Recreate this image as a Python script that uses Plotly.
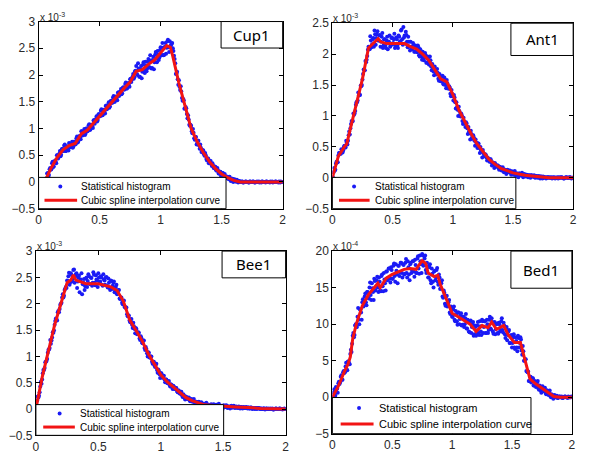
import numpy as np
import plotly.graph_objects as go

W, H = 591, 463

# Histogram samples: "_a" lists sit on bins 0.00, 0.01, ...; "_b" lists on 0.005, 0.015, ...

# ---- Cup1 (x 10^-3) ----
cup1_hist_a = [
    0.00, 0.00, 0.01, 0.00, 0.02, 0.02, 0.03, 0.16, 0.10, 0.24,
    0.23, 0.35, 0.28, 0.38, 0.38, 0.50, 0.44, 0.53, 0.48, 0.61,
    0.58, 0.68, 0.58, 0.66, 0.63, 0.73, 0.65, 0.71, 0.64, 0.75,
    0.70, 0.82, 0.74, 0.84, 0.83, 0.95, 0.87, 0.95, 0.88, 1.00,
    0.95, 1.06, 0.97, 1.06, 1.04, 1.15, 1.09, 1.18, 1.13, 1.26,
    1.23, 1.33, 1.25, 1.33, 1.32, 1.42, 1.36, 1.44, 1.39, 1.51,
    1.48, 1.58, 1.50, 1.58, 1.57, 1.67, 1.61, 1.69, 1.64, 1.76,
    1.73, 1.83, 1.75, 1.83, 1.82, 1.92, 1.87, 1.97, 1.93, 2.07,
    2.17, 2.00, 2.12, 1.97, 2.17, 2.06, 2.24, 2.04, 2.18, 2.12,
    2.30, 2.14, 2.27, 2.13, 2.34, 2.24, 2.43, 2.24, 2.38, 2.33,
    2.52, 2.37, 2.51, 2.38, 2.60, 2.51, 2.66, 2.43, 2.54, 2.58,
    2.50, 2.36, 2.22, 2.03, 1.92, 1.90, 1.72, 1.69, 1.52, 1.53,
    1.38, 1.38, 1.19, 1.17, 1.05, 1.05, 0.91, 0.92, 0.79, 0.84,
    0.73, 0.77, 0.62, 0.64, 0.56, 0.59, 0.49, 0.50, 0.40, 0.44,
    0.36, 0.39, 0.30, 0.31, 0.26, 0.28, 0.21, 0.22, 0.16, 0.19,
    0.14, 0.17, 0.10, 0.11, 0.08, 0.10, 0.05, 0.07, 0.03, 0.06,
    0.02, 0.04, 0.01, 0.02, 0.00, 0.01, 0.00, 0.01, -0.01, 0.00,
    0.01, 0.00, -0.01, 0.01, 0.00, 0.00, 0.01, -0.01, 0.00, 0.01,
    0.00, -0.01, 0.00, 0.01, 0.00, 0.00, -0.01, 0.01, 0.00, 0.00,
    0.01, 0.00, -0.01, 0.00, 0.01, 0.00, 0.00, 0.01, -0.01, 0.00,
    0.00,
]
cup1_hist_b = [
    0.00, 0.01, 0.00, 0.01, 0.00, 0.05, 0.07, 0.17, 0.13, 0.26,
    0.24, 0.38, 0.29, 0.40, 0.35, 0.50, 0.49, 0.58, 0.51, 0.62,
    0.58, 0.70, 0.58, 0.67, 0.59, 0.72, 0.68, 0.75, 0.66, 0.75,
    0.71, 0.85, 0.75, 0.86, 0.80, 0.95, 0.91, 0.99, 0.90, 1.00,
    0.96, 1.08, 0.98, 1.07, 1.01, 1.16, 1.14, 1.23, 1.16, 1.27,
    1.23, 1.36, 1.25, 1.35, 1.28, 1.43, 1.40, 1.49, 1.41, 1.52,
    1.48, 1.61, 1.50, 1.60, 1.53, 1.68, 1.65, 1.74, 1.66, 1.77,
    1.73, 1.86, 1.75, 1.85, 1.78, 1.93, 1.92, 2.02, 1.96, 2.08,
    2.02, 2.22, 1.97, 2.11, 1.94, 2.19, 2.11, 2.25, 2.07, 2.25,
    2.15, 2.37, 2.12, 2.28, 2.11, 2.38, 2.31, 2.45, 2.28, 2.47,
    2.38, 2.60, 2.37, 2.53, 2.40, 2.63, 2.52, 2.63, 2.56, 2.60,
    2.45, 2.30, 2.02, 2.06, 1.82, 1.78, 1.79, 1.57, 1.55, 1.37,
    1.40, 1.27, 1.25, 1.07, 1.07, 0.95, 0.99, 0.82, 0.84, 0.70,
    0.77, 0.68, 0.70, 0.56, 0.60, 0.52, 0.54, 0.43, 0.44, 0.35,
    0.39, 0.33, 0.35, 0.26, 0.29, 0.22, 0.26, 0.16, 0.19, 0.11,
    0.17, 0.12, 0.15, 0.07, 0.10, 0.06, 0.10, 0.02, 0.06, 0.00,
    0.05, 0.01, 0.04, -0.01, 0.02, 0.00, 0.01, -0.01, 0.00, 0.01,
    0.00, 0.00, -0.01, 0.01, 0.00, 0.01, 0.00, -0.01, 0.00, 0.00,
    0.01, 0.00, -0.01, 0.01, 0.00, 0.00, 0.01, 0.00, 0.00, -0.01,
    0.00, 0.01, 0.00, 0.00, 0.01, 0.00, -0.01, 0.00, 0.01, 0.00,
]
cup1_curve_x = [0.0, 0.05, 0.1, 0.15, 0.2, 0.25, 0.3, 0.35, 0.4, 0.45, 0.5, 0.55,
                0.6, 0.65, 0.7, 0.75, 0.8, 0.85, 0.9, 0.95, 1.0, 1.05, 1.08, 1.1,
                1.15, 1.2, 1.25, 1.3, 1.35, 1.4, 1.45, 1.5, 1.55, 1.6, 1.65, 2.0]
cup1_curve_y = [0.0, 0.0, 0.25, 0.45, 0.6, 0.68, 0.72, 0.9, 0.97, 1.1, 1.25, 1.37,
                1.5, 1.62, 1.75, 1.87, 2.07, 2.1, 2.2, 2.28, 2.42, 2.55, 2.52, 2.35,
                1.85, 1.4, 1.0, 0.75, 0.55, 0.38, 0.25, 0.15, 0.08, 0.03, 0.0, 0.0]

# ---- Ant1 (x 10^-3) ----
ant1_hist_a = [
    0.00, 0.09, 0.12, 0.23, 0.25, 0.36, 0.40, 0.39, 0.45, 0.44,
    0.52, 0.49, 0.57, 0.60, 0.75, 0.80, 0.92, 0.92, 1.02, 1.08,
    1.22, 1.25, 1.33, 1.34, 1.48, 1.59, 1.75, 1.74, 1.87, 1.97,
    2.12, 2.08, 2.22, 2.16, 2.26, 2.38, 2.15, 2.32, 2.22, 2.30,
    2.12, 2.28, 2.10, 2.24, 2.14, 2.22, 2.08, 2.20, 2.12, 2.26,
    2.16, 2.24, 2.10, 2.27, 2.14, 2.30, 2.20, 2.38, 2.24, 2.44,
    2.30, 2.36, 2.20, 2.28, 2.12, 2.20, 2.08, 2.18, 2.04, 2.14,
    2.04, 2.14, 1.98, 2.08, 1.96, 2.04, 1.90, 2.02, 1.86, 1.96,
    1.84, 1.96, 1.80, 1.84, 1.72, 1.80, 1.68, 1.76, 1.60, 1.68,
    1.56, 1.64, 1.52, 1.62, 1.50, 1.58, 1.46, 1.48, 1.36, 1.42,
    1.32, 1.34, 1.22, 1.22, 1.10, 1.15, 1.02, 1.04, 0.92, 0.97,
    0.88, 0.90, 0.80, 0.82, 0.72, 0.76, 0.65, 0.69, 0.60, 0.62,
    0.54, 0.56, 0.48, 0.50, 0.42, 0.45, 0.37, 0.38, 0.33, 0.33,
    0.29, 0.30, 0.25, 0.25, 0.21, 0.24, 0.19, 0.20, 0.16, 0.18,
    0.14, 0.16, 0.12, 0.13, 0.11, 0.12, 0.10, 0.11, 0.08, 0.10,
    0.07, 0.09, 0.07, 0.07, 0.06, 0.07, 0.05, 0.06, 0.04, 0.05,
    0.03, 0.05, 0.03, 0.04, 0.02, 0.04, 0.02, 0.03, 0.01, 0.03,
    0.02, 0.02, 0.01, 0.02, 0.00, 0.02, 0.01, 0.01, 0.00, 0.01,
    0.01, 0.00, 0.00, 0.01, 0.00, -0.01, 0.00, 0.01, 0.00, 0.00,
    0.01, 0.00, -0.01, 0.00, 0.01, 0.00, 0.00, 0.01, 0.00, 0.00,
    0.00,
]
ant1_hist_b = [
    0.01, 0.16, 0.13, 0.26, 0.25, 0.40, 0.39, 0.46, 0.41, 0.50,
    0.49, 0.60, 0.54, 0.69, 0.70, 0.87, 0.91, 1.04, 1.04, 1.18,
    1.22, 1.38, 1.35, 1.49, 1.50, 1.68, 1.74, 1.89, 1.91, 2.07,
    2.11, 2.29, 2.11, 2.24, 2.12, 2.32, 2.26, 2.37, 2.22, 2.31,
    2.20, 2.34, 2.14, 2.24, 2.10, 2.28, 2.20, 2.30, 2.14, 2.27,
    2.18, 2.33, 2.13, 2.24, 2.10, 2.28, 2.21, 2.40, 2.15, 2.27,
    2.17, 2.31, 2.11, 2.20, 2.06, 2.12, 2.10, 2.15, 2.04, 2.10,
    2.03, 2.11, 1.96, 2.02, 1.91, 2.01, 1.94, 1.98, 1.86, 1.92,
    1.83, 1.90, 1.74, 1.78, 1.66, 1.75, 1.67, 1.70, 1.57, 1.63,
    1.56, 1.65, 1.51, 1.57, 1.45, 1.53, 1.44, 1.46, 1.32, 1.36,
    1.25, 1.30, 1.12, 1.14, 1.00, 1.08, 0.99, 1.01, 0.87, 0.91,
    0.82, 0.88, 0.71, 0.75, 0.62, 0.71, 0.63, 0.65, 0.52, 0.57,
    0.48, 0.55, 0.40, 0.44, 0.33, 0.40, 0.35, 0.37, 0.28, 0.31,
    0.26, 0.30, 0.20, 0.24, 0.16, 0.22, 0.18, 0.20, 0.13, 0.17,
    0.12, 0.17, 0.09, 0.13, 0.06, 0.13, 0.09, 0.12, 0.05, 0.10,
    0.05, 0.11, 0.03, 0.07, 0.01, 0.07, 0.04, 0.08, 0.01, 0.06,
    0.02, 0.05, 0.01, 0.04, 0.00, 0.04, 0.02, 0.04, 0.00, 0.03,
    0.00, 0.03, -0.01, 0.02, -0.01, 0.01, 0.00, -0.01, 0.01, 0.00,
    0.00, 0.01, -0.01, 0.00, 0.01, 0.00, 0.00, -0.01, 0.01, 0.00,
    0.01, 0.00, -0.01, 0.00, 0.01, 0.00, 0.00, 0.01, -0.01, 0.00,
]
ant1_curve_x = [0.0, 0.05, 0.1, 0.12, 0.15, 0.2, 0.25, 0.3, 0.35, 0.38, 0.4, 0.45,
                0.5, 0.6, 0.65, 0.7, 0.75, 0.8, 0.85, 0.9, 0.95, 1.0, 1.05, 1.1,
                1.15, 1.2, 1.25, 1.3, 1.35, 1.4, 1.5, 1.6, 1.7, 1.8, 2.0]
ant1_curve_y = [0.0, 0.35, 0.5, 0.55, 0.8, 1.2, 1.6, 2.1, 2.2, 2.25, 2.2, 2.17,
                2.17, 2.17, 2.12, 2.08, 2.0, 1.9, 1.75, 1.6, 1.55, 1.35, 1.1, 0.9,
                0.72, 0.55, 0.42, 0.3, 0.22, 0.15, 0.08, 0.04, 0.02, 0.0, 0.0]

# ---- Bee1 (x 10^-3) ----
bee1_hist_a = [
    0.00, 0.16, 0.22, 0.32, 0.52, 0.56, 0.74, 0.78, 0.90, 0.95,
    1.12, 1.16, 1.24, 1.36, 1.45, 1.60, 1.72, 1.68, 1.86, 1.90,
    2.00, 2.12, 2.12, 2.26, 2.32, 2.44, 2.52, 2.36, 2.58, 2.42,
    2.64, 2.40, 2.56, 2.30, 2.50, 2.22, 2.46, 2.18, 2.40, 2.26,
    2.48, 2.32, 2.56, 2.38, 2.50, 2.34, 2.60, 2.40, 2.54, 2.44,
    2.58, 2.40, 2.52, 2.36, 2.56, 2.44, 2.50, 2.34, 2.48, 2.30,
    2.44, 2.28, 2.40, 2.22, 2.32, 2.18, 2.26, 2.10, 2.12, 2.02,
    2.05, 1.94, 1.92, 1.80, 1.78, 1.68, 1.70, 1.60, 1.64, 1.52,
    1.54, 1.42, 1.46, 1.34, 1.38, 1.26, 1.30, 1.16, 1.18, 1.06,
    1.08, 0.98, 1.00, 0.90, 0.90, 0.82, 0.84, 0.74, 0.75, 0.66,
    0.68, 0.60, 0.63, 0.56, 0.56, 0.50, 0.52, 0.46, 0.47, 0.42,
    0.44, 0.38, 0.40, 0.34, 0.35, 0.30, 0.32, 0.26, 0.28, 0.22,
    0.24, 0.20, 0.21, 0.17, 0.18, 0.15, 0.16, 0.13, 0.14, 0.11,
    0.13, 0.10, 0.11, 0.08, 0.10, 0.07, 0.09, 0.07, 0.08, 0.06,
    0.08, 0.06, 0.08, 0.05, 0.07, 0.05, 0.07, 0.04, 0.06, 0.05,
    0.06, 0.04, 0.06, 0.04, 0.05, 0.04, 0.05, 0.03, 0.05, 0.03,
    0.04, 0.03, 0.04, 0.02, 0.04, 0.03, 0.03, 0.02, 0.03, 0.02,
    0.03, 0.01, 0.03, 0.01, 0.02, 0.01, 0.02, 0.00, 0.02, 0.01,
    0.01, 0.00, 0.01, 0.01, 0.00, 0.01, 0.00, 0.00, 0.01, 0.00,
    -0.01, 0.00, 0.01, 0.00, 0.00, 0.01, 0.00, 0.00, 0.00, 0.01,
    0.00,
]
bee1_hist_b = [
    0.04, 0.24, 0.25, 0.43, 0.48, 0.68, 0.74, 0.89, 0.91, 1.07,
    1.13, 1.31, 1.30, 1.46, 1.49, 1.67, 1.71, 1.84, 1.84, 1.98,
    2.02, 2.18, 2.15, 2.29, 2.30, 2.43, 2.59, 2.41, 2.55, 2.47,
    2.65, 2.52, 2.58, 2.42, 2.53, 2.44, 2.58, 2.37, 2.47, 2.33,
    2.50, 2.43, 2.52, 2.37, 2.49, 2.40, 2.55, 2.35, 2.46, 2.32,
    2.50, 2.42, 2.50, 2.34, 2.46, 2.36, 2.51, 2.31, 2.40, 2.26,
    2.43, 2.34, 2.42, 2.26, 2.36, 2.20, 2.26, 2.09, 2.12, 1.99,
    2.06, 1.94, 1.93, 1.76, 1.77, 1.65, 1.71, 1.54, 1.57, 1.44,
    1.52, 1.43, 1.45, 1.31, 1.35, 1.25, 1.30, 1.12, 1.14, 1.00,
    1.07, 0.98, 1.00, 0.86, 0.90, 0.80, 0.86, 0.69, 0.72, 0.59,
    0.68, 0.60, 0.63, 0.51, 0.56, 0.49, 0.53, 0.43, 0.46, 0.38,
    0.43, 0.38, 0.40, 0.32, 0.35, 0.29, 0.33, 0.23, 0.26, 0.18,
    0.23, 0.19, 0.22, 0.15, 0.19, 0.14, 0.19, 0.10, 0.14, 0.07,
    0.14, 0.10, 0.13, 0.06, 0.10, 0.06, 0.12, 0.04, 0.08, 0.02,
    0.09, 0.06, 0.09, 0.03, 0.08, 0.04, 0.10, 0.02, 0.06, 0.00,
    0.07, 0.04, 0.07, 0.02, 0.05, 0.01, 0.06, 0.03, 0.06, 0.02,
    0.05, 0.02, 0.05, 0.01, 0.04, 0.01, 0.04, 0.02, 0.04, 0.01,
    0.03, 0.01, 0.03, 0.00, 0.02, 0.00, 0.02, 0.01, 0.02, 0.00,
    0.01, 0.00, 0.01, -0.01, 0.01, 0.00, 0.01, 0.00, 0.00, 0.01,
    -0.01, 0.00, 0.01, 0.00, 0.00, 0.01, 0.00, -0.01, 0.00, 0.00,
]
bee1_curve_x = [0.0, 0.05, 0.1, 0.15, 0.2, 0.25, 0.28, 0.3, 0.32, 0.4, 0.5, 0.6,
                0.65, 0.7, 0.75, 0.8, 0.85, 0.9, 0.95, 1.0, 1.05, 1.1, 1.15, 1.2,
                1.25, 1.3, 1.35, 1.4, 1.5, 1.6, 1.7, 1.8, 2.0]
bee1_curve_y = [0.0, 0.6, 1.1, 1.6, 2.0, 2.4, 2.45, 2.55, 2.45, 2.38, 2.38, 2.32,
                2.25, 2.05, 1.7, 1.5, 1.3, 1.05, 0.85, 0.65, 0.52, 0.42, 0.32, 0.22,
                0.16, 0.12, 0.08, 0.07, 0.05, 0.04, 0.03, 0.01, 0.0]

# ---- Bed1 (x 10^-4) ----
bed1_hist_a = [
    0.0, 0.6, 0.5, 1.4, 1.2, 1.9, 1.8, 2.8, 2.4, 3.4,
    3.3, 4.2, 3.8, 4.9, 4.6, 5.9, 6.2, 8.4, 8.2, 9.8,
    9.6, 11.0, 10.6, 12.0, 11.6, 13.0, 12.4, 13.8, 13.0, 14.4,
    13.6, 15.0, 14.0, 15.6, 14.4, 16.2, 14.6, 16.0, 15.0, 16.4,
    14.6, 16.6, 15.2, 17.0, 15.6, 17.2, 16.0, 17.6, 16.2, 17.8,
    16.2, 18.0, 16.6, 18.2, 16.8, 18.0, 16.6, 18.4, 17.0, 18.2,
    16.8, 18.4, 17.0, 18.6, 16.8, 18.2, 17.0, 18.6, 17.2, 18.8,
    17.0, 19.0, 17.6, 19.4, 18.2, 19.6, 18.0, 19.0, 17.4, 18.4,
    16.4, 17.8, 16.0, 17.6, 15.8, 17.2, 16.0, 17.4, 15.8, 16.8,
    14.8, 15.6, 13.8, 14.6, 12.8, 13.8, 12.4, 13.0, 11.6, 12.4,
    11.0, 12.0, 10.6, 11.8, 10.4, 11.6, 10.0, 11.2, 9.8, 11.0,
    9.6, 10.8, 9.4, 10.6, 9.0, 10.4, 8.8, 10.0, 8.4, 9.8,
    8.4, 9.8, 8.8, 10.4, 9.0, 10.6, 8.8, 10.4, 8.8, 10.6,
    8.8, 10.6, 9.4, 10.8, 9.0, 10.2, 8.6, 10.0, 8.8, 10.2,
    9.0, 10.4, 9.2, 10.2, 8.6, 9.4, 7.8, 9.0, 7.4, 8.4,
    6.8, 8.2, 6.8, 8.2, 6.8, 8.4, 6.8, 8.2, 6.4, 7.0,
    5.0, 5.2, 3.6, 3.4, 2.2, 2.8, 2.0, 2.6, 1.6, 2.2,
    1.4, 2.0, 1.2, 1.6, 0.9, 1.4, 0.8, 1.2, 0.6, 0.9,
    0.4, 0.6, 0.2, 0.4, 0.0, 0.2, 0.0, 0.1, -0.1, 0.0,
    0.1, 0.0, -0.1, 0.0, 0.1, 0.0, 0.0, 0.1, 0.0, 0.0,
    0.0,
]
bed1_hist_b = [
    0.0, 1.1, 0.2, 1.1, 0.6, 2.1, 2.0, 3.0, 2.4, 3.6,
    3.4, 4.7, 3.7, 4.9, 4.5, 6.5, 7.3, 8.8, 8.5, 10.0,
    9.6, 12.2, 10.0, 12.0, 10.6, 13.4, 12.8, 14.2, 12.6, 14.4,
    13.5, 15.7, 13.3, 14.9, 13.3, 15.9, 15.1, 16.5, 14.4, 15.8,
    14.5, 16.8, 14.5, 16.1, 14.6, 17.2, 16.3, 17.6, 15.7, 17.4,
    16.2, 18.3, 15.8, 17.3, 15.6, 18.0, 17.1, 18.4, 16.4, 18.1,
    16.9, 18.9, 16.4, 17.8, 16.0, 18.4, 17.4, 18.6, 16.5, 18.1,
    17.0, 19.3, 16.9, 18.6, 17.0, 19.4, 18.3, 19.4, 17.0, 17.9,
    16.4, 18.2, 15.6, 16.9, 15.0, 17.3, 16.4, 17.7, 15.4, 16.4,
    14.9, 16.0, 13.6, 14.3, 12.5, 13.9, 12.8, 13.3, 11.4, 12.2,
    11.0, 12.4, 10.4, 11.3, 9.9, 11.6, 10.7, 11.5, 9.9, 11.0,
    10.0, 11.4, 9.4, 10.3, 8.9, 10.5, 9.6, 10.3, 8.6, 9.6,
    8.6, 10.3, 8.5, 9.7, 8.5, 10.4, 9.6, 10.4, 8.8, 10.0,
    9.2, 11.0, 9.3, 10.3, 8.7, 10.3, 9.3, 10.1, 8.7, 10.0,
    9.2, 10.8, 8.9, 9.8, 8.1, 9.6, 8.5, 9.2, 7.4, 8.5,
    7.4, 8.6, 6.6, 7.7, 6.3, 8.1, 7.4, 7.9, 5.8, 6.3,
    5.0, 5.2, 3.5, 3.5, 2.2, 2.8, 2.2, 2.6, 1.6, 2.1,
    1.5, 2.2, 1.0, 1.5, 0.6, 1.5, 0.9, 1.3, 0.4, 0.9,
    0.3, 0.9, 0.0, 0.3, -0.2, 0.3, 0.0, 0.2, -0.1, 0.1,
    0.0, 0.1, -0.1, 0.0, 0.1, 0.0, -0.1, 0.0, 0.0, 0.1,
]
bed1_curve_x = [0.0, 0.05, 0.1, 0.13, 0.15, 0.17, 0.2, 0.25, 0.3, 0.35, 0.38, 0.4,
                0.45, 0.5, 0.55, 0.6, 0.65, 0.7, 0.72, 0.75, 0.78, 0.8, 0.85, 0.88,
                0.9, 0.95, 1.0, 1.05, 1.1, 1.15, 1.2, 1.25, 1.3, 1.33, 1.37, 1.4,
                1.43, 1.47, 1.52, 1.57, 1.6, 1.65, 1.7, 1.75, 1.8, 1.85, 1.9, 2.0]
bed1_curve_y = [0.0, 1.5, 3.5, 4.5, 5.5, 8.0, 10.0, 12.5, 14.0, 15.0, 15.6, 15.0,
                16.3, 16.8, 17.2, 17.5, 17.6, 17.5, 18.0, 18.7, 18.3, 17.0, 16.5, 16.7,
                15.5, 13.5, 11.5, 11.0, 10.5, 10.0, 9.0, 9.8, 9.5, 10.3, 9.3, 9.6,
                9.8, 8.5, 7.5, 7.5, 5.5, 2.5, 1.8, 1.2, 0.6, 0.1, 0.0, 0.0]

# Pixel layout of each panel: plot box, label box, legend box and legend spacing
panels = [
    dict(name="Cup1", ha=cup1_hist_a, hb=cup1_hist_b, cx=cup1_curve_x, cy=cup1_curve_y,
         yrange=[-0.5, 3], ydtick=0.5, exp="-3",
         plot=(36, 283, 15, 208), label=(220.7, 42.3),
         leg=(189.7, 32.3), leg_dot=22, leg_line=(6, 39), leg_text=40.7, leg_font=10),
    dict(name="Ant1", ha=ant1_hist_a, hb=ant1_hist_b, cx=ant1_curve_x, cy=ant1_curve_y,
         yrange=[-0.5, 2.5], ydtick=0.5, exp="-3",
         plot=(333.3, 577, 16.7, 208), label=(514, 50),
         leg=(185.7, 32.3), leg_dot=22, leg_line=(6.7, 37.7), leg_text=41, leg_font=10),
    dict(name="Bee1", ha=bee1_hist_a, hb=bee1_hist_b, cx=bee1_curve_x, cy=bee1_curve_y,
         yrange=[-0.5, 3], ydtick=0.5, exp="-3",
         plot=(33.3, 286, 251.7, 441.7), label=(221.7, 279.3),
         leg=(190, 31.7), leg_dot=24, leg_line=(7.4, 39.4), leg_text=42.7, leg_font=10),
    dict(name="Bed1", ha=bed1_hist_a, hb=bed1_hist_b, cx=bed1_curve_x, cy=bed1_curve_y,
         yrange=[-5, 20], ydtick=5, exp="-4",
         plot=(333.3, 575.7, 251.7, 440), label=(514, 290),
         leg=(201, 37.3), leg_dot=27, leg_line=(8.4, 41.7), leg_text=45, leg_font=11),
]

BLUE = "#1a1af5"
RED = "#f21414"


def px(v):
    return v / W


def py(v):
    return 1 - v / H


tick_font = dict(family="Liberation Sans, Arial, sans-serif", size=12, color="#2a2a2a")
fig = go.Figure()
shapes, annotations = [], []

for i, p in enumerate(panels, start=1):
    suffix = "" if i == 1 else str(i)
    xa, ya = f"x{suffix}", f"y{suffix}"
    L, R, T, B = p["plot"]
    xs = np.concatenate([np.arange(len(p["ha"])) * 0.01,
                         np.arange(len(p["hb"])) * 0.01 + 0.005])
    ys = list(p["ha"]) + list(p["hb"])

    fig.add_trace(go.Scatter(
        x=xs, y=ys, mode="markers", xaxis=xa, yaxis=ya,
        name="Statistical histogram", showlegend=False,
        marker=dict(color=BLUE, size=4, line=dict(width=0)),
    ))
    fig.add_trace(go.Scatter(
        x=p["cx"], y=p["cy"], mode="lines", xaxis=xa, yaxis=ya,
        name="Cubic spline interpolation curve", showlegend=False,
        line=dict(color=RED, width=3),
    ))

    axis_common = dict(showline=True, linecolor="black", linewidth=1, mirror="ticks",
                       ticks="inside", ticklen=4, tickcolor="black", showgrid=False,
                       zeroline=False, tickfont=tick_font)
    fig.update_layout({
        f"xaxis{suffix}": dict(axis_common, domain=[px(L), px(R)], range=[0, 2],
                               dtick=0.5, anchor=ya),
        f"yaxis{suffix}": dict(axis_common, domain=[py(B), py(T)], range=p["yrange"],
                               dtick=p["ydtick"], anchor=xa),
    })

    # label box in the upper-right corner
    lx, lb = p["label"]
    shapes.append(dict(type="rect", xref="paper", yref="paper",
                       x0=px(lx), x1=px(R), y0=py(lb), y1=py(T),
                       line=dict(color="black", width=1), fillcolor="white", layer="above"))
    annotations.append(dict(text=p["name"], xref="paper", yref="paper",
                            x=px((lx + R) / 2), y=py((T + lb) / 2), showarrow=False,
                            xanchor="center", yanchor="middle",
                            font=dict(family="Noto Sans, sans-serif", size=15, color="black")))

    # exponent label above the y axis
    annotations.append(dict(text=f"x 10<sup>{p['exp']}</sup>", xref="paper", yref="paper",
                            x=px(L), y=py(T), xanchor="left", yanchor="bottom",
                            showarrow=False, xshift=-1, yshift=-3,
                            font=dict(family="Liberation Sans, Arial, sans-serif",
                                      size=10, color="#2a2a2a")))

    # legend box in the lower-left corner
    lw, lh = p["leg"]
    top = B - lh
    row1, row2 = top + 0.29 * lh, top + 0.73 * lh
    shapes.append(dict(type="rect", xref="paper", yref="paper",
                       x0=px(L), x1=px(L + lw), y0=py(B), y1=py(top),
                       line=dict(color="black", width=1), fillcolor="white", layer="above"))
    d = p["leg_dot"]
    shapes.append(dict(type="circle", xref="paper", yref="paper",
                       x0=px(L + d - 2), x1=px(L + d + 2), y0=py(row1 + 2), y1=py(row1 - 2),
                       line=dict(width=0), fillcolor=BLUE, layer="above"))
    l0, l1 = p["leg_line"]
    shapes.append(dict(type="line", xref="paper", yref="paper",
                       x0=px(L + l0), x1=px(L + l1), y0=py(row2), y1=py(row2),
                       line=dict(color=RED, width=3), layer="above"))
    for text, ry in (("Statistical histogram", row1),
                     ("Cubic spline interpolation curve", row2)):
        annotations.append(dict(text=text, xref="paper", yref="paper",
                                x=px(L + p["leg_text"]), y=py(ry), xanchor="left",
                                yanchor="middle", showarrow=False,
                                font=dict(family="Liberation Sans, Arial, sans-serif",
                                          size=p["leg_font"], color="black")))

fig.update_layout(
    width=W, height=H, margin=dict(l=0, r=0, t=0, b=0),
    paper_bgcolor="white", plot_bgcolor="white", showlegend=False,
    shapes=shapes, annotations=annotations,
)

fig.write_html("out.html")
